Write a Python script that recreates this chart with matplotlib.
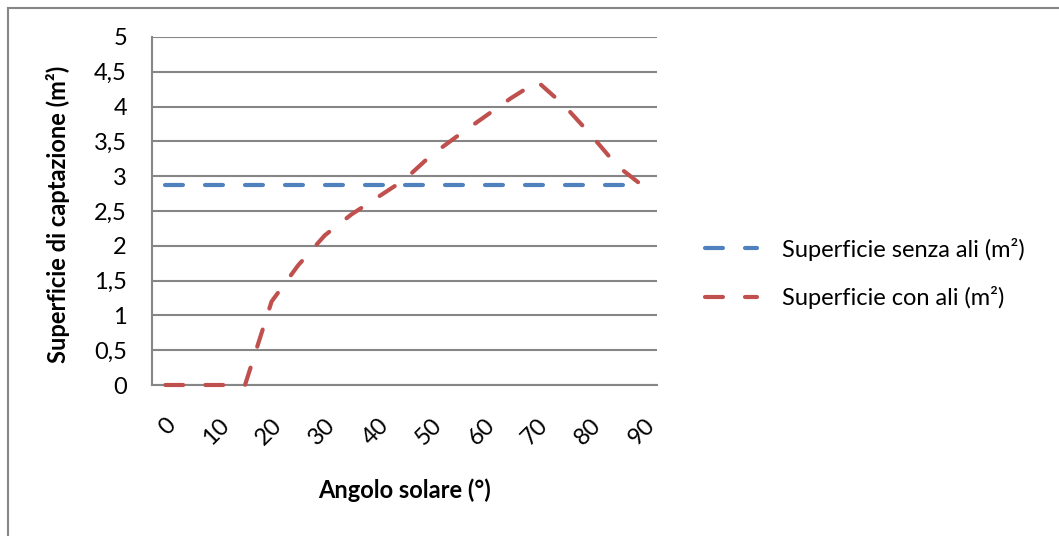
import matplotlib
matplotlib.use("Agg")
import matplotlib.pyplot as plt
from matplotlib.lines import Line2D

# dati (angolo ogni 5 gradi, etichette ogni 10)
angoli = [0, 5, 10, 15, 20, 25, 30, 35, 40, 45, 50, 55, 60, 65, 70, 75, 80, 85, 90]
senza_ali = [2.88] * len(angoli)
con_ali = [0, 0, 0, 0, 1.2, 1.72, 2.15, 2.45, 2.7, 2.95, 3.3, 3.58, 3.85, 4.12, 4.36, 4.02, 3.6, 3.15, 2.85]
etichette_x = ["0", "10", "20", "30", "40", "50", "60", "70", "80", "90"]
yticks = [0, 0.5, 1, 1.5, 2, 2.5, 3, 3.5, 4, 4.5, 5]

plt.rcParams['font.family'] = ['Lato', 'DejaVu Sans']
FS = 17

W, H = 1059, 536
fig = plt.figure(figsize=(W / 100, H / 100), dpi=100)
ax = fig.add_axes([152 / W, 1 - 385 / H, 505 / W, 348 / H])

x = list(range(len(angoli)))
blu = "#4F81BD"
rosso = "#C0504D"
l1, = ax.plot(x, senza_ali, color=blu, lw=3, dashes=(4.3, 5.3), zorder=3,
              clip_on=False, dash_capstyle="round", label="Superficie senza ali (m²)")
l2, = ax.plot(x, con_ali, color=rosso, lw=3, dashes=(4.3, 5.3), zorder=3,
              clip_on=False, dash_capstyle="round", label="Superficie con ali (m²)")

ax.set_xlim(-0.5, len(angoli) - 0.5)
ax.set_ylim(0, 5)
ax.set_yticks(yticks)
ax.set_yticklabels([("%g" % v).replace(".", ",") for v in yticks], fontsize=FS)
ax.set_xticks(x[::2])
ax.set_xticklabels(etichette_x, rotation=45, ha="right", va="top",
                   rotation_mode="anchor", fontsize=FS)
ax.tick_params(length=0)
ax.tick_params(axis="y", pad=18)
ax.tick_params(axis="x", pad=21)

ax.grid(axis="y", color="#868686", lw=1.5)
ax.set_axisbelow(True)
for s in ["top", "right"]:
    ax.spines[s].set_visible(False)
for s in ["left", "bottom"]:
    ax.spines[s].set_color("#868686")
    ax.spines[s].set_linewidth(1.5)

ax.set_xlabel("Angolo solare (°)", fontsize=FS, fontweight="bold")
ax.xaxis.set_label_coords((405 - 152) / 505, -93 / 348)
ax.set_ylabel("Superficie di captazione (m²)", fontsize=FS, fontweight="bold")
ax.yaxis.set_label_coords(-82 / 505, 0.49)

fig.legend(handles=[l1, l2], loc="center left", bbox_to_anchor=(705 / W, 1 - 273.5 / H),
           frameon=False, fontsize=FS, handlelength=2.2, labelspacing=1.1,
           handletextpad=1.05, borderpad=0, borderaxespad=0)

# bordo dell'area del grafico
fig.add_artist(Line2D([8 / W, 8 / W], [0, 1 - 8 / H], color="#868686", lw=1.5))
fig.add_artist(Line2D([8 / W, 1], [1 - 8 / H, 1 - 8 / H], color="#868686", lw=1.5))

fig.savefig("out.png", dpi=100)
